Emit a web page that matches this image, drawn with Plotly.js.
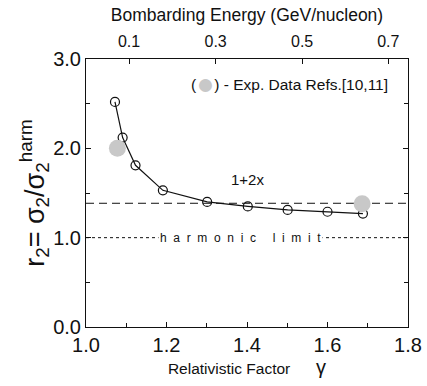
<!DOCTYPE html>
<html><head><meta charset="utf-8">
<script src="https://cdn.plot.ly/plotly-3.0.1.min.js"></script>
<style>html,body{margin:0;padding:0;background:#fff}#chart{width:427px;height:386px}</style>
</head><body><div id="chart"></div>
<script>
// Theory (open circles, solid line)
const gammaTheory = [1.072, 1.091, 1.123, 1.191, 1.301, 1.402, 1.501, 1.600, 1.688];
const rTheory     = [2.52, 2.12, 1.81, 1.53, 1.40, 1.35, 1.31, 1.29, 1.27];
// Experimental data (grey filled circles)
const gammaExp = [1.078, 1.686];
const rExp     = [2.00, 1.38];
// Reference lines
const lineX = [1.0, 1.8];
const onePlus2x = [1.385, 1.385];
const harmonic = [1.0, 1.0];
// Top axis: bombarding energy ticks (GeV/nucleon) at their gamma positions
const energyLabels = ['0.1', '0.3', '0.5', '0.7'];
const energyGamma  = [1.107, 1.322, 1.537, 1.751];

const font = 'Liberation Sans, Arial, Helvetica, sans-serif';
const ink = '#111';
const sp = ' &nbsp;';
const harmText = 'harmonic'.split('').join(sp) + ' &nbsp; &nbsp; ' + 'limit'.split('').join(sp);

const traces = [
  {x: lineX, y: harmonic, mode: 'lines', line: {color: ink, width: 1, dash: 'dot'}, hoverinfo: 'skip', showlegend: false},
  {x: lineX, y: onePlus2x, mode: 'lines', line: {color: ink, width: 1, dash: '8px,5px'}, hoverinfo: 'skip', showlegend: false},
  {x: gammaTheory, y: rTheory, mode: 'lines+markers', line: {color: ink, width: 1.2},
   marker: {symbol: 'circle-open', size: 9, color: ink, line: {width: 1.2, color: ink}}, showlegend: false},
  {x: gammaExp, y: rExp, mode: 'markers', marker: {symbol: 'circle', size: 17, color: '#c8c8c8'}, showlegend: false},
  {x: energyGamma, y: [null, null, null, null], xaxis: 'x2', mode: 'markers', showlegend: false, hoverinfo: 'skip'}
];

const layout = {
  width: 427, height: 386,
  margin: {l: 86, r: 19, t: 59, b: 59},
  paper_bgcolor: '#fff', plot_bgcolor: '#fff',
  font: {family: font, color: ink},
  xaxis: {
    range: [1.0, 1.8], dtick: 0.2, tick0: 1.0, tickformat: '.1f',
    ticks: 'inside', ticklen: 5, tickwidth: 1, tickcolor: ink,
    minor: {dtick: 0.1, ticks: 'inside', ticklen: 4, tickcolor: ink},
    showline: true, linecolor: ink, linewidth: 1, mirror: true,
    showgrid: false, zeroline: false,
    tickfont: {size: 20, family: font, color: ink},
    title: {text: 'Relativistic Factor &nbsp; &nbsp; &nbsp;<span style="font-size:20px">γ</span>', font: {size: 15.5, family: font, color: ink}, standoff: 4}
  },
  xaxis2: {
    overlaying: 'x', side: 'top', range: [1.0, 1.8],
    tickmode: 'array', tickvals: energyGamma, ticktext: energyLabels,
    ticks: 'inside', ticklen: 5, tickcolor: ink, ticklabelstandoff: 8,
    showline: false, showgrid: false, zeroline: false,
    tickfont: {size: 16, family: font, color: ink},
    title: {text: 'Bombarding Energy (GeV/nucleon)', font: {size: 17.5, family: font, color: ink}, standoff: 6}
  },
  yaxis: {
    range: [0, 3], dtick: 1, tickformat: '.1f',
    ticks: 'inside', ticklen: 5, tickwidth: 1, tickcolor: ink,
    minor: {dtick: 0.5, ticks: 'inside', ticklen: 4, tickcolor: ink},
    showline: true, linecolor: ink, linewidth: 1, mirror: 'ticks',
    showgrid: false, zeroline: false,
    tickfont: {size: 20, family: font, color: ink},
    title: {text: 'r<sub>2</sub>= σ<sub>2</sub>/σ<sub>2</sub><sup>harm</sup>', font: {size: 27, family: font, color: ink}, standoff: 0}
  },
  annotations: [
    {x: 1.40, y: 1.65, xref: 'x', yref: 'y', text: '1+2x', showarrow: false, font: {size: 15, family: font, color: ink}},
    {x: 1.505, y: 2.73, xref: 'x', yref: 'y', showarrow: false,
     text: '(<span style="color:#c8c8c8;font-size:30px;baseline-shift:-4px">●</span>) - Exp. Data Refs.[10,11]', font: {size: 15.5, family: font, color: ink}},
    {x: 1.383, y: 1.0, xref: 'x', yref: 'y', showarrow: false, bgcolor: '#fff', borderpad: 1,
     text: harmText, font: {size: 12, family: font, color: ink}}
  ]
};

Plotly.newPlot('chart', traces, layout, {displayModeBar: false, staticPlot: true});
</script>
</body></html>
